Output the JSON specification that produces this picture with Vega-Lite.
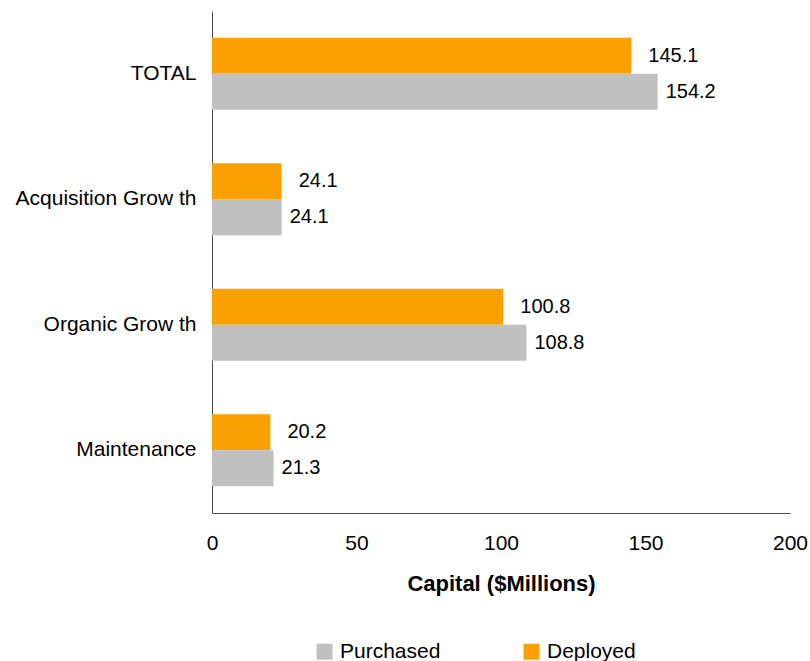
{
  "$schema": "https://vega.github.io/schema/vega-lite/v6.json",
  "width": 578,
  "height": 502,
  "autosize": {"type": "none"},
  "padding": {"left": 212, "top": 11, "right": 20, "bottom": 148},
  "background": "white",
  "config": {"view": {"stroke": null}, "font": "Liberation Sans"},
  "data": {
    "values": [
      {"category": "TOTAL", "series": "Deployed", "value": 145.1},
      {"category": "TOTAL", "series": "Purchased", "value": 154.2},
      {"category": "Acquisition Grow th", "series": "Deployed", "value": 24.1},
      {"category": "Acquisition Grow th", "series": "Purchased", "value": 24.1},
      {"category": "Organic Grow th", "series": "Deployed", "value": 100.8},
      {"category": "Organic Grow th", "series": "Purchased", "value": 108.8},
      {"category": "Maintenance", "series": "Deployed", "value": 20.2},
      {"category": "Maintenance", "series": "Purchased", "value": 21.3}
    ]
  },
  "encoding": {
    "y": {
      "field": "category",
      "type": "nominal",
      "sort": null,
      "scale": {"paddingInner": 0.427, "paddingOuter": 0.2135},
      "axis": {
        "title": null,
        "ticks": false,
        "labelFontSize": 21,
        "labelColor": "#000000",
        "labelPadding": 16,
        "labelLimit": 0,
        "domainColor": "#4d4d4d",
        "domainWidth": 1,
        "labelFont": "Liberation Sans"
      }
    },
    "yOffset": {
      "field": "series",
      "type": "nominal",
      "scale": {"domain": ["Deployed", "Purchased"]}
    },
    "x": {
      "field": "value",
      "type": "quantitative",
      "scale": {"domain": [0, 200], "nice": false},
      "axis": {
        "values": [0, 50, 100, 150, 200],
        "ticks": false,
        "grid": false,
        "labelFontSize": 21,
        "labelColor": "#000000",
        "labelPadding": 19,
        "labelFlush": false,
        "labelOverlap": false,
        "labelBound": false,
        "labelFont": "Liberation Sans",
        "title": "Capital ($Millions)",
        "titleFont": "Liberation Sans",
        "titleFontSize": 22,
        "titleFontWeight": "bold",
        "titleColor": "#000000",
        "titlePadding": 20,
        "domainColor": "#4d4d4d",
        "domainWidth": 1
      }
    }
  },
  "layer": [
    {
      "mark": {"type": "bar"},
      "encoding": {
        "color": {
          "field": "series",
          "type": "nominal",
          "scale": {"domain": ["Purchased", "Deployed"], "range": ["#C0C0C0", "#FAA000"]},
          "legend": {
            "title": null,
            "orient": "none",
            "direction": "horizontal",
            "legendX": 102,
            "legendY": 630,
            "padding": 0,
            "symbolType": "square",
            "symbolSize": 256,
            "symbolStrokeWidth": 0,
            "symbolOpacity": 1,
            "labelFontSize": 21,
            "labelFont": "Liberation Sans",
            "labelColor": "#000000",
            "labelOffset": 5,
            "columnPadding": 80
          }
        }
      }
    },
    {
      "transform": [{"filter": "datum.series === 'Deployed'"}],
      "mark": {"type": "text", "align": "left", "baseline": "middle", "dx": 17, "fontSize": 20, "font": "Liberation Sans", "color": "#000000"},
      "encoding": {"text": {"field": "value", "type": "quantitative", "format": ".1f"}}
    },
    {
      "transform": [{"filter": "datum.series === 'Purchased'"}],
      "mark": {"type": "text", "align": "left", "baseline": "middle", "dx": 8, "fontSize": 20, "font": "Liberation Sans", "color": "#000000"},
      "encoding": {"text": {"field": "value", "type": "quantitative", "format": ".1f"}}
    }
  ]
}
